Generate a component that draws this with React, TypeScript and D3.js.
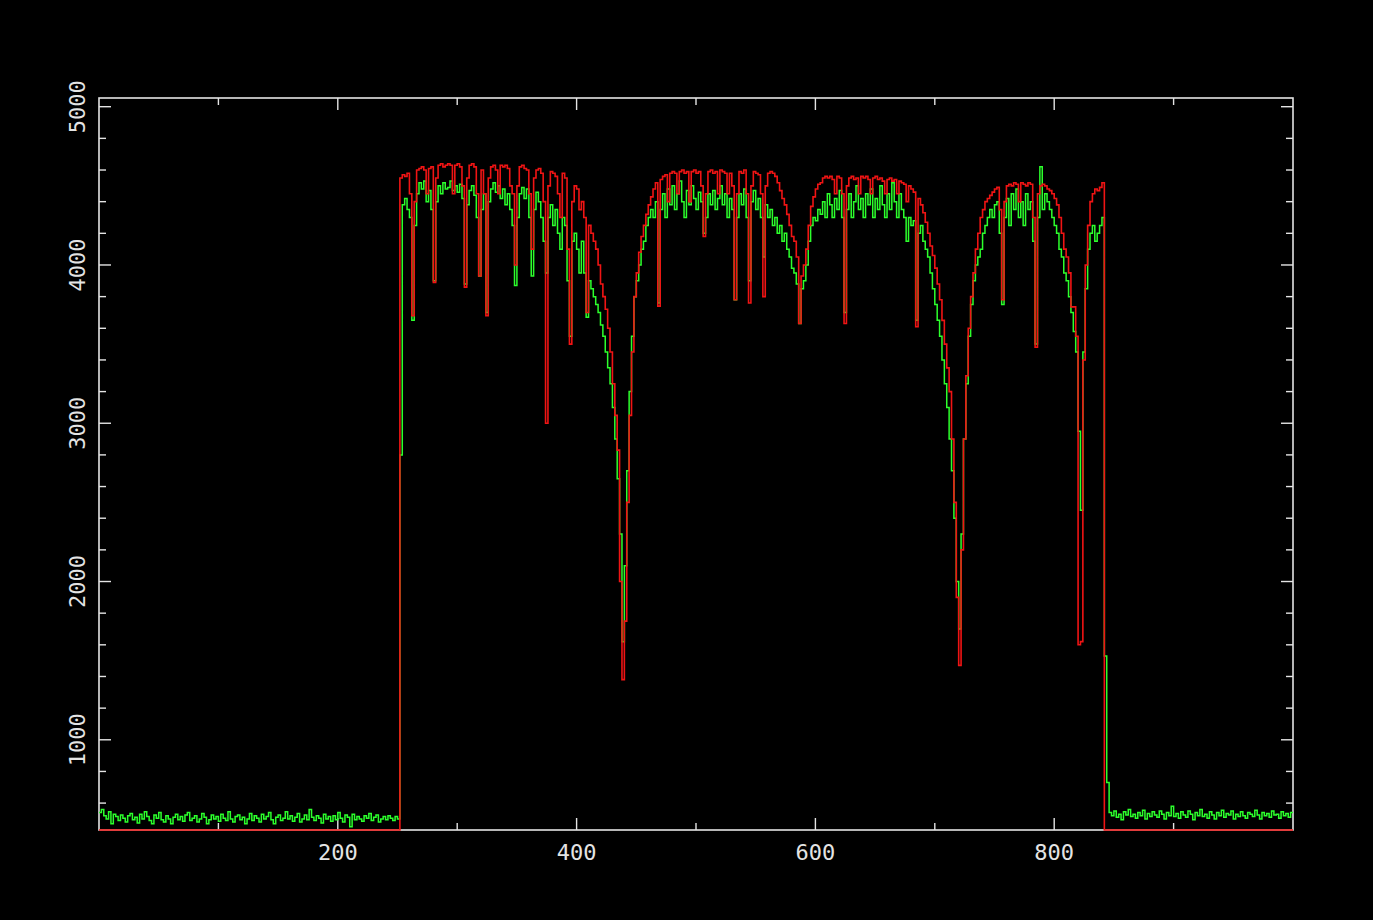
import React, { useEffect, useRef } from 'react';
import * as d3 from 'd3';

const W = 1373;
const H = 920;
const margin = { top: 98, right: 80, bottom: 90, left: 99 };

const xDomain = [0, 1000];
const yDomain = [430, 5055];
const xTickLabels = [200, 400, 600, 800];
const yTickLabels = [1000, 2000, 3000, 4000, 5000];
const xMinorStep = 100;
const yMinorStep = 200;

// samples are 2 channels apart
const sampleStep = 2;

// green: flat noisy floor, then the signal, then floor again
const greenLeftStart = 0;
const greenLeft = [
  540, 560, 520, 500, 545, 470, 530, 515, 490, 525,
  505, 480, 520, 535, 495, 510, 475, 530, 500, 545,
  515, 490, 470, 525, 505, 540, 495, 480, 520, 500,
  470, 510, 530, 495, 515, 485, 525, 540, 490, 505,
  520, 480, 500, 535, 510, 470, 495, 525, 500, 515,
  485, 530, 505, 490, 545, 500, 480, 515, 525, 495,
  510, 470, 500, 535, 490, 520, 505, 480, 530, 500,
  515, 540, 495, 470, 510, 525, 490, 505, 545, 500,
  520, 485, 510, 535, 480, 500, 525, 495, 560, 510,
  490, 520, 505, 475, 530, 500, 515, 485, 520, 495,
  540, 505, 480, 525, 510, 450, 530, 495, 515, 500,
  485, 520, 505, 535, 490, 510, 525, 480, 500, 515,
  495, 520, 505, 490, 515, 500,
];

const greenSignalStart = 252;
const greenSignal = [
  2800, 4380, 4420, 4350, 4300, 3650, 4250, 4450, 4520, 4480,
  4530, 4400, 4470, 4350, 3900, 4400, 4500, 4450, 4520, 4480,
  4490, 4530, 4470, 4500, 4460, 4510, 4420, 3880, 4380, 4470,
  4500, 4440, 4300, 3930, 4350, 4450, 3700, 4400, 4480, 4520,
  4460, 4500, 4420, 4480, 4380, 4450, 4350, 4250, 3870, 4300,
  4450, 4490, 4420, 4480, 4300, 3930, 4350, 4460, 4400, 4300,
  4150, 3950, 4300, 4380, 4250, 4350, 4200, 4100, 4300, 4250,
  3900, 3550, 4150, 4200, 4100, 3950, 4150, 3950, 3670, 3900,
  3850, 3800, 3750, 3700, 3620, 3550, 3450, 3350, 3250, 3100,
  2900, 2650, 2300, 1620, 2100, 2700, 3200, 3550, 3800, 3900,
  4000, 4100, 4150, 4250, 4300, 4350, 4300, 4400, 3760, 4350,
  4450, 4300, 4480, 4380, 4500, 4350, 4450, 4530, 4400, 4300,
  4470, 4380, 4500, 4420, 4350, 4460, 4400, 4200, 4300, 4450,
  4380, 4470, 4350, 4420, 4500, 4380, 4450, 4300, 4420, 4350,
  3780, 4300, 4450, 4380, 4480, 4300, 3900, 4400, 4470, 4350,
  4420, 4300, 4050, 4380, 4300, 4350, 4250, 4300, 4200, 4250,
  4150, 4200, 4100, 4050, 3980, 3950, 3880, 3630, 3850, 3900,
  4000, 4150, 4250, 4300, 4280, 4350, 4320, 4400, 4300, 4450,
  4380, 4300, 4420, 4350, 4470, 4300, 3700, 4350, 4450, 4300,
  4400, 4500, 4350, 4420, 4300, 4450, 4380, 4480, 4300, 4420,
  4350, 4500, 4380, 4300, 4450, 4350, 4520, 4400, 4300, 4450,
  4350, 4300, 4150, 4300, 4250, 4280, 3650, 4200, 4250, 4150,
  4100, 4050, 3950, 3850, 3750, 3650, 3550, 3400, 3250, 3100,
  2900, 2700, 2400, 2000, 1700, 2300, 2900, 3250, 3550, 3750,
  3900, 4000, 4050, 4100, 4200, 4250, 4300, 4350, 4300, 4380,
  4400, 4200, 3750, 4300, 4420, 4250, 4450, 4350, 4480, 4300,
  4400, 4250, 4450, 4350, 4400, 4150, 3500, 4300, 4620, 4350,
  4450, 4400, 4350, 4300, 4250, 4200, 4100, 4050, 3950, 3900,
  3800, 3700, 3580, 3450, 2950, 2450, 3450, 3850, 4100, 4200,
  4250, 4150, 4200, 4250, 4300, 1530, 730,
];

const greenRightStart = 846;
const greenRight = [
  540, 520, 550, 510, 530, 495, 545, 525, 560, 515,
  530, 505, 540, 520, 555, 500, 535, 515, 545, 525,
  510, 550, 530, 500, 540, 520, 580, 515, 535, 505,
  545, 525, 510, 550, 530, 495, 540, 520, 560, 515,
  530, 505, 545, 525, 500, 540, 520, 555, 510, 535,
  525, 550, 500, 530, 515, 545, 520, 505, 540, 530,
  515, 555, 525, 500, 540, 520, 535, 510, 550, 525,
  530, 505, 545, 520, 535, 510, 540,
];

// red: sits on the bottom edge outside the signal
const redFloor = 430;
const redFloorSpans = [[0, 250], [842, 1000]];
const redSignalStart = 252;
const redSignal = [
  4550, 4570, 4560, 4580, 4450, 3680, 4400, 4600, 4610, 4620,
  4600, 4450, 4610, 4620, 3890, 4550, 4630, 4640, 4620, 4630,
  4640, 4630, 4450, 4630, 4640, 4620, 4500, 3860, 4550, 4630,
  4640, 4620, 4450, 3930, 4600, 4450, 3680, 4550, 4620, 4630,
  4600, 4450, 4630, 4620, 4630, 4610, 4500, 4450, 4000, 4500,
  4620, 4630, 4610, 4600, 4450, 4100, 4550, 4600, 4610, 4580,
  4400, 3000, 4500, 4590, 4580, 4560, 4450, 4300, 4580, 4550,
  4100, 3500, 4400, 4500, 4480, 4350, 4400, 4300, 3700, 4250,
  4200, 4150, 4100, 4000, 3880, 3800, 3720, 3600, 3450, 3250,
  3050, 2830, 2000, 1380, 1750, 2500, 3050, 3450, 3800, 3950,
  4080, 4180, 4250, 4320, 4380, 4430, 4480, 4520, 3740, 4540,
  4560, 4570, 4400, 4580, 4590, 4580, 4450, 4590, 4600, 4580,
  4590, 4400, 4590, 4600, 4580, 4590, 4500, 4180, 4450, 4590,
  4600, 4580, 4590, 4450, 4600, 4590, 4580, 4450, 4580, 4500,
  3780, 4450, 4590, 4580, 4600, 4450, 3760, 4500, 4590, 4580,
  4570, 4450, 3800, 4500, 4580, 4590, 4580, 4560, 4520, 4470,
  4420, 4380, 4320, 4250, 4180, 4150, 4050, 3630, 3930, 4000,
  4100, 4250, 4370, 4430, 4480, 4510, 4520, 4550, 4560, 4550,
  4560, 4540, 4450, 4560, 4550, 4450, 3630, 4500, 4550, 4560,
  4540, 4550, 4450, 4560, 4550, 4560, 4540, 4450, 4550, 4560,
  4540, 4550, 4530, 4450, 4540, 4550, 4530, 4540, 4450, 4530,
  4520, 4510, 4400, 4500, 4480, 4460, 3610, 4420, 4380, 4330,
  4270, 4200, 4120, 4060, 3980, 3880, 3780, 3650, 3500, 3350,
  3200, 2900, 2500, 1900, 1470, 2200, 2900, 3300, 3600, 3800,
  3950, 4100, 4200, 4300, 4350, 4400, 4420, 4440, 4460, 4480,
  4490, 4350, 3780, 4400, 4500, 4510, 4500, 4520, 4510, 4400,
  4520, 4510, 4500, 4520, 4510, 4300, 3480, 4450, 4500, 4510,
  4500, 4480, 4470, 4450, 4420, 4380, 4300, 4200, 4100, 4050,
  3950, 3735, 3735, 3550, 1600, 1620, 3400, 4000, 4250, 4400,
  4450, 4480, 4470, 4490, 4520,
];

const AXIS = '#e4e4e4';
const GREEN = '#2cff2c';
const RED = '#f01414';

function toPoints(start: number, values: number[]): [number, number][] {
  return values.map((v, i) => [start + i * sampleStep, v] as [number, number]);
}

export default function App() {
  const ref = useRef<SVGSVGElement>(null);

  useEffect(() => {
    const svg = d3.select(ref.current);
    svg.selectAll('*').remove();

    const x = d3.scaleLinear().domain(xDomain).range([margin.left, W - margin.right]);
    const y = d3.scaleLinear().domain(yDomain).range([H - margin.bottom, margin.top]);
    const [x0, x1] = x.range();
    const [y0, y1] = y.range(); // y0 bottom, y1 top

    svg.append('rect').attr('width', W).attr('height', H).attr('fill', '#000');

    svg.append('clipPath').attr('id', 'plot')
      .append('rect')
      .attr('x', x0).attr('y', y1 - 2)
      .attr('width', x1 - x0 + 1).attr('height', y0 - y1 + 4);

    // box
    svg.append('rect')
      .attr('x', x0).attr('y', y1)
      .attr('width', x1 - x0).attr('height', y0 - y1)
      .attr('fill', 'none')
      .attr('stroke', AXIS)
      .attr('stroke-width', 1.6);

    // ticks, pointing inward on all four sides
    const xTicks = d3.range(xMinorStep, xDomain[1], xMinorStep);
    xTicks.forEach(t => {
      const len = xTickLabels.includes(t) ? 12 : 7;
      svg.append('line').attr('x1', x(t)).attr('x2', x(t))
        .attr('y1', y0).attr('y2', y0 - len)
        .attr('stroke', AXIS).attr('stroke-width', 1.4);
      svg.append('line').attr('x1', x(t)).attr('x2', x(t))
        .attr('y1', y1).attr('y2', y1 + len)
        .attr('stroke', AXIS).attr('stroke-width', 1.4);
    });

    const yTicks = d3.range(600, yDomain[1], yMinorStep);
    yTicks.forEach(t => {
      const len = yTickLabels.includes(t) ? 12 : 7;
      svg.append('line').attr('x1', x0).attr('x2', x0 + len)
        .attr('y1', y(t)).attr('y2', y(t))
        .attr('stroke', AXIS).attr('stroke-width', 1.4);
      svg.append('line').attr('x1', x1).attr('x2', x1 - len)
        .attr('y1', y(t)).attr('y2', y(t))
        .attr('stroke', AXIS).attr('stroke-width', 1.4);
    });

    const line = d3.line<[number, number]>()
      .x(d => x(d[0]))
      .y(d => y(d[1]))
      .curve(d3.curveStepAfter);

    const greenPts = [
      ...toPoints(greenLeftStart, greenLeft),
      ...toPoints(greenSignalStart, greenSignal),
      ...toPoints(greenRightStart, greenRight),
    ];
    greenPts.push([xDomain[1], greenPts[greenPts.length - 1][1]]);

    const redPts: [number, number][] = [
      [redFloorSpans[0][0], redFloor], [redFloorSpans[0][1], redFloor],
      ...toPoints(redSignalStart, redSignal),
      [redFloorSpans[1][0], redFloor], [redFloorSpans[1][1], redFloor],
    ];

    // data drawn over the frame, red last
    const g = svg.append('g').attr('clip-path', 'url(#plot)');
    g.append('path')
      .datum(greenPts)
      .attr('d', line)
      .attr('fill', 'none')
      .attr('stroke', GREEN)
      .attr('stroke-width', 1.5);
    g.append('path')
      .datum(redPts)
      .attr('d', line)
      .attr('fill', 'none')
      .attr('stroke', RED)
      .attr('stroke-width', 1.6);

    const font = '"DejaVu Sans Mono", monospace';

    svg.selectAll('.xlab')
      .data(xTickLabels)
      .enter().append('text')
      .attr('class', 'xlab')
      .attr('x', d => x(d))
      .attr('y', y0 + 30)
      .attr('text-anchor', 'middle')
      .attr('font-family', font)
      .attr('font-size', 22)
      .attr('fill', AXIS)
      .text(d => String(d));

    svg.selectAll('.ylab')
      .data(yTickLabels)
      .enter().append('text')
      .attr('class', 'ylab')
      .attr('transform', d => 'translate(' + (x0 - 14) + ',' + y(d) + ') rotate(-90)')
      .attr('text-anchor', 'middle')
      .attr('font-family', font)
      .attr('font-size', 22)
      .attr('fill', AXIS)
      .text(d => String(d));
  }, []);

  return (
    <svg
      ref={ref}
      width={W}
      height={H}
      style={{ position: 'absolute', left: 0, top: 0, display: 'block' }}
    />
  );
}
